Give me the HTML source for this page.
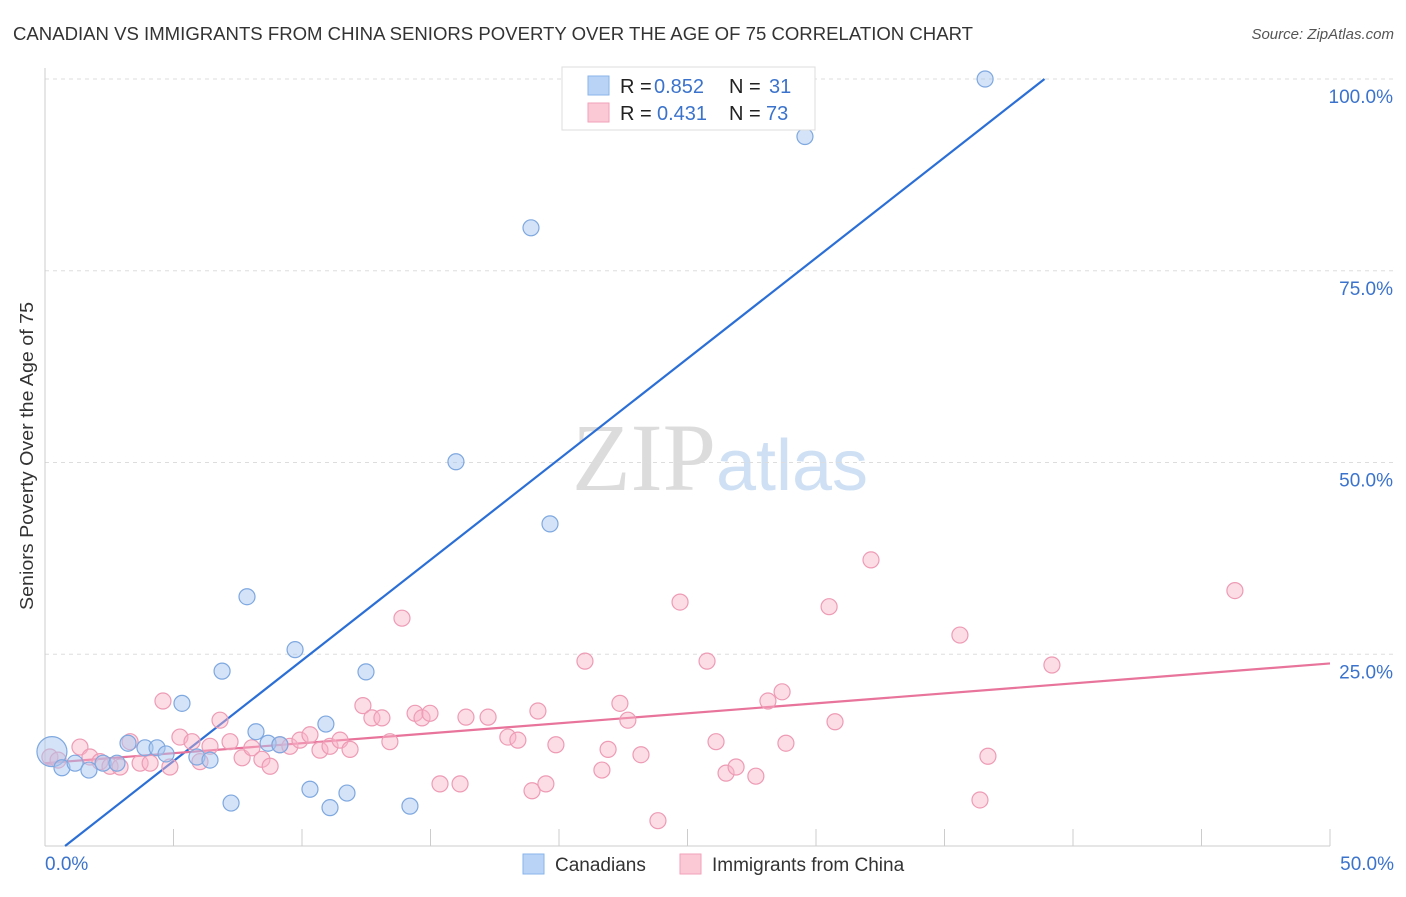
<!DOCTYPE html>
<html><head><meta charset="utf-8"><style>
body{margin:0;background:#fff;font-family:"Liberation Sans",sans-serif;}
svg text{font-family:"Liberation Sans",sans-serif;}
</style></head><body>
<svg id="chart" width="1406" height="892" xmlns="http://www.w3.org/2000/svg">
<text x="13" y="40" font-size="18" fill="#333" textLength="960" lengthAdjust="spacingAndGlyphs">CANADIAN VS IMMIGRANTS FROM CHINA SENIORS POVERTY OVER THE AGE OF 75 CORRELATION CHART</text>
<text x="1394" y="39" font-size="15" fill="#555" text-anchor="end" font-style="italic">Source: ZipAtlas.com</text>
<text x="720" y="490" font-size="96" text-anchor="middle"><tspan fill="#dcdcdc" font-family="Liberation Serif">ZIP</tspan><tspan fill="#cfe0f5" font-size="72">atlas</tspan></text>
<text transform="translate(33,456) rotate(-90)" font-size="18" fill="#333" text-anchor="middle" textLength="308" lengthAdjust="spacingAndGlyphs">Seniors Poverty Over the Age of 75</text>
<g id="grid"></g><g id="axes"></g><g id="lines"></g><g id="pts"></g>
<g>
<rect x="562" y="67" width="253" height="63" fill="#fff" stroke="#ddd"/>
<rect x="588" y="76" width="21" height="19" fill="#b8d3f5" stroke="#8ab4ea"/>
<rect x="588" y="103" width="21" height="19" fill="#fbc8d6" stroke="#f2a2ba"/>
<text x="620" y="93" font-size="20" fill="#222">R =</text>
<text x="654" y="93" font-size="20" fill="#3b73cc">0.852</text>
<text x="729" y="93" font-size="20" fill="#222">N =</text>
<text x="769" y="93" font-size="20" fill="#3b73cc">31</text>
<text x="620" y="120" font-size="20" fill="#222">R =</text>
<text x="657" y="120" font-size="20" fill="#3b73cc">0.431</text>
<text x="729" y="120" font-size="20" fill="#222">N =</text>
<text x="766" y="120" font-size="20" fill="#3b73cc">73</text>
</g>
<g>
<rect x="523" y="854" width="21" height="20" fill="#b8d3f5" stroke="#8ab4ea"/>
<text x="555" y="871" font-size="19" fill="#333">Canadians</text>
<rect x="680" y="854" width="21" height="20" fill="#fbc8d6" stroke="#f2a2ba"/>
<text x="712" y="871" font-size="19" fill="#333">Immigrants from China</text>
</g>
</svg>
<script>
const blueX=[0.27,0.66,1.17,1.71,2.26,2.80,3.23,3.89,4.36,4.71,5.33,5.91,6.42,6.89,7.24,7.86,8.21,8.68,9.14,9.73,10.31,10.93,11.09,11.75,12.49,14.20,15.99,18.91,19.65,29.57,36.58];
const blueY=[12.3,10.2,10.8,9.9,10.8,10.8,13.4,12.8,12.8,12.0,18.6,11.6,11.2,22.8,5.6,32.5,14.9,13.4,13.2,25.6,7.4,15.9,5.0,6.9,22.7,5.2,50.1,80.6,42.0,92.5,100.0];
const pinkX=[0.19,0.51,1.36,1.75,2.14,2.53,2.92,3.31,3.70,4.09,4.59,4.86,5.25,5.72,6.03,6.42,6.81,7.20,7.67,8.05,8.44,8.76,9.14,9.53,9.92,10.31,10.70,11.09,11.48,11.87,12.37,12.72,13.11,13.42,13.89,14.40,14.67,14.98,15.37,16.15,16.38,17.24,18.01,18.40,18.95,19.18,19.49,19.88,21.01,21.67,21.91,22.37,22.68,23.19,23.85,24.71,25.76,26.11,26.50,26.89,27.66,28.13,28.68,28.83,30.51,30.74,32.14,35.60,36.38,36.69,39.18,46.30];
const pinkY=[11.6,11.2,12.9,11.6,11.0,10.4,10.3,13.6,10.8,10.8,18.9,10.3,14.2,13.6,11.0,13.0,16.4,13.6,11.5,12.8,11.3,10.4,13.2,13.0,13.8,14.5,12.5,13.0,13.8,12.6,18.3,16.7,16.7,13.6,29.7,17.3,16.7,17.3,8.1,8.1,16.8,16.8,14.2,13.8,7.2,17.6,8.1,13.2,24.1,9.9,12.6,18.6,16.4,11.9,3.3,31.8,24.1,13.6,9.5,10.3,9.1,18.9,20.1,13.4,31.2,16.2,37.3,27.5,6.0,11.7,23.6,33.3];
const yTicks=[25,50,75,100];
const yTickLabels=["25.0%","50.0%","75.0%","100.0%"];
const blueFit=[-2.05,2.624];
const pinkFit=[10.8,0.26];
const sx=v=>45+v/50*1285, sy=v=>846-v/100*767;
const NS="http://www.w3.org/2000/svg";
function mk(p,t,a){const e=document.createElementNS(NS,t);for(const k in a)e.setAttribute(k,a[k]);p.appendChild(e);return e;}
const grid=document.getElementById('grid'),axes=document.getElementById('axes'),lines=document.getElementById('lines'),pts=document.getElementById('pts');
yTicks.forEach((t,i)=>{
 const l=mk(grid,'line',{x1:45,x2:1394,y1:sy(t),y2:sy(t),stroke:'#ddd','stroke-dasharray':'4,4'});
 
 
 const tx=mk(axes,'text',{x:1393,y:sy(t)+24,'font-size':19,fill:'#3b73cc','text-anchor':'end'});
 tx.textContent=yTickLabels[i];
 
 
});
const ax=mk(axes,'line',{x1:45,x2:1330,y1:846,y2:846,stroke:'#ccc'});


const ay=mk(axes,'line',{x1:45,x2:45,y1:68,y2:846,stroke:'#ccc'});


for(let i=0;i<=10;i++){const t=mk(axes,'line',{x1:sx(i*5),x2:sx(i*5),y1:829,y2:846,stroke:'#ccc'});
 
 }
[[0,'0.0%','start',45],[50,'50.0%','end',1394]].forEach(d=>{const t=mk(axes,'text',{x:d[3],y:870,'font-size':19,fill:'#3b73cc','text-anchor':d[2]});t.textContent=d[1];
 
 });
pinkX.forEach((x,i)=>{const c=mk(pts,'circle',{cx:sx(x),cy:sy(pinkY[i]),r:8,fill:'rgba(248,180,200,0.45)',stroke:'#ee9bb5','stroke-width':1.2});
 
 });
blueX.forEach((x,i)=>{const c=mk(pts,'circle',{cx:sx(x),cy:sy(blueY[i]),r:i==0?15:8,fill:'rgba(170,200,240,0.5)',stroke:'#7ea8e0','stroke-width':1.2});
 
 });
const x0=-blueFit[0]/blueFit[1], x1=(100-blueFit[0])/blueFit[1];
const bl=mk(lines,'line',{x1:sx(x0),y1:sy(0),x2:sx(x1),y2:sy(100),stroke:'#2b6fd6','stroke-width':2.2});


const pl=mk(lines,'line',{x1:sx(0),y1:sy(pinkFit[0]),x2:sx(50),y2:sy(pinkFit[0]+pinkFit[1]*50),stroke:'#e8739b','stroke-width':2.2});


</script>
</body></html>
